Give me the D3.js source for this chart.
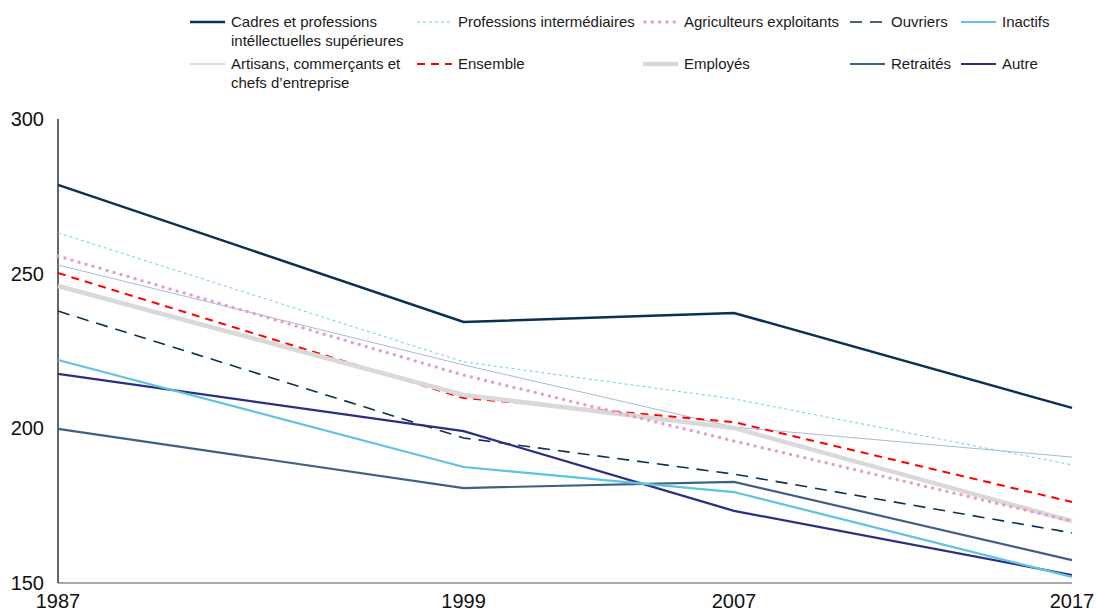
<!DOCTYPE html>
<html>
<head>
<meta charset="utf-8">
<script src="https://cdn.jsdelivr.net/npm/d3@7"></script>
<style>
  body { margin: 0; background: #fff; font-family: "Liberation Sans", Arial, sans-serif; }
</style>
</head>
<body>
<div id="chart"></div>
<script>
// years on the x axis
var years = [1987, 1999, 2007, 2017];
var yTicks = [150, 200, 250, 300];

// series values
var cadres = [278.7, 234.4, 237.3, 206.6];
var profInter = [263.2, 221.5, 209.5, 188.2];
var agriculteurs = [255.7, 217.2, 195.9, 170.0];
var ouvriers = [237.9, 196.9, 185.2, 166.2];
var inactifs = [222.1, 187.5, 179.4, 152.0];
var artisans = [252.8, 220.5, 200.4, 190.7];
var ensemble = [250.2, 209.8, 202.0, 176.2];
var employes = [246.0, 210.8, 200.1, 170.0];
var retraites = [199.8, 180.7, 182.7, 157.4];
var autre = [217.6, 199.1, 173.3, 152.6];

// series in legend order (row 1 then row 2)
var series = [
  {name: ["Cadres et professions", "intéllectuelles supérieures"], values: cadres, color: "#0b3052", width: 2.5, dash: null, cap: "butt"},
  {name: ["Professions intermédiaires"], values: profInter, color: "#72cbe6", width: 1, dash: "3,3", cap: "butt"},
  {name: ["Agriculteurs exploitants"], values: agriculteurs, color: "#e89cca", width: 3.5, dash: "0,7.3", cap: "round"},
  {name: ["Ouvriers"], values: ouvriers, color: "#0c3252", width: 1.6, dash: "12,8", cap: "butt"},
  {name: ["Inactifs"], values: inactifs, color: "#5ec3e1", width: 2.2, dash: null, cap: "butt"},
  {name: ["Artisans, commerçants et", "chefs d\u2019entreprise"], values: artisans, color: "#a9bbd0", width: 1, dash: null, cap: "butt"},
  {name: ["Ensemble"], values: ensemble, color: "#ff0000", width: 2, dash: "8,6", cap: "butt"},
  {name: ["Employés"], values: employes, color: "#d9d9d9", width: 4.5, dash: null, cap: "butt"},
  {name: ["Retraités"], values: retraites, color: "#3f6085", width: 2.2, dash: null, cap: "butt"},
  {name: ["Autre"], values: autre, color: "#2c2e82", width: 2.2, dash: null, cap: "butt"}
];

// drawing order (bottom to top)
var drawOrder = [5, 1, 6, 7, 2, 3, 9, 8, 4, 0];

var width = 1096, height = 613;
var margin = {top: 119, right: 24, bottom: 30, left: 58};

var x = d3.scaleLinear()
  .domain([1987, 2017])
  .range([margin.left, width - margin.right]);

var y = d3.scaleLinear()
  .domain([150, 300])
  .range([height - margin.bottom, margin.top]);

var svg = d3.select("#chart")
  .append("svg")
  .attr("width", width)
  .attr("height", height);

// x axis line
svg.append("line")
  .attr("x1", x(1987)).attr("x2", x(2017))
  .attr("y1", y(150)).attr("y2", y(150))
  .attr("stroke", "#8c8c8c")
  .attr("stroke-width", 1.5);

// y axis line
svg.append("line")
  .attr("x1", x(1987)).attr("x2", x(1987))
  .attr("y1", y(300)).attr("y2", y(150))
  .attr("stroke", "#000")
  .attr("stroke-width", 1.2);

// y tick labels
svg.selectAll(".ytick")
  .data(yTicks)
  .enter().append("text")
  .attr("class", "ytick")
  .attr("x", x(1987) - 14)
  .attr("y", function(d) { return y(d); })
  .attr("dy", "0.35em")
  .attr("text-anchor", "end")
  .style("font-size", "20px")
  .attr("fill", "#111")
  .text(function(d) { return d; });

// x tick labels
svg.selectAll(".xtick")
  .data(years)
  .enter().append("text")
  .attr("class", "xtick")
  .attr("x", function(d) { return x(d); })
  .attr("y", y(150) + 18)
  .attr("dy", "0.35em")
  .attr("text-anchor", "middle")
  .style("font-size", "20px")
  .attr("fill", "#111")
  .text(function(d) { return d; });

var line = d3.line()
  .x(function(d, i) { return x(years[i]); })
  .y(function(d) { return y(d); });

// lines
drawOrder.forEach(function(k) {
  var s = series[k];
  svg.append("path")
    .datum(s.values)
    .attr("d", line)
    .attr("fill", "none")
    .attr("stroke", s.color)
    .attr("stroke-width", s.width)
    .attr("stroke-dasharray", s.dash)
    .attr("stroke-linecap", s.cap);
});

// legend
var colX = [190, 417, 643, 850, 961];
var rowY = [22, 64];

var legend = svg.selectAll(".legend")
  .data(series)
  .enter().append("g")
  .attr("class", "legend")
  .attr("transform", function(d, i) {
    return "translate(" + colX[i % 5] + "," + rowY[Math.floor(i / 5)] + ")";
  });

legend.append("line")
  .attr("x1", function(d) { return d.cap === "round" ? 2 : 0; })
  .attr("x2", 35)
  .attr("y1", 0).attr("y2", 0)
  .attr("stroke", function(d) { return d.color; })
  .attr("stroke-width", function(d) { return d.width; })
  .attr("stroke-dasharray", function(d) { return d.dash; })
  .attr("stroke-linecap", function(d) { return d.cap; });

legend.each(function(d) {
  var g = d3.select(this);
  d.name.forEach(function(t, j) {
    g.append("text")
      .attr("x", 41)
      .attr("y", j * 19)
      .attr("dy", "0.35em")
      .style("font-size", "15px")
      .attr("fill", "#1a1a1a")
      .text(t);
  });
});
</script>
</body>
</html>
